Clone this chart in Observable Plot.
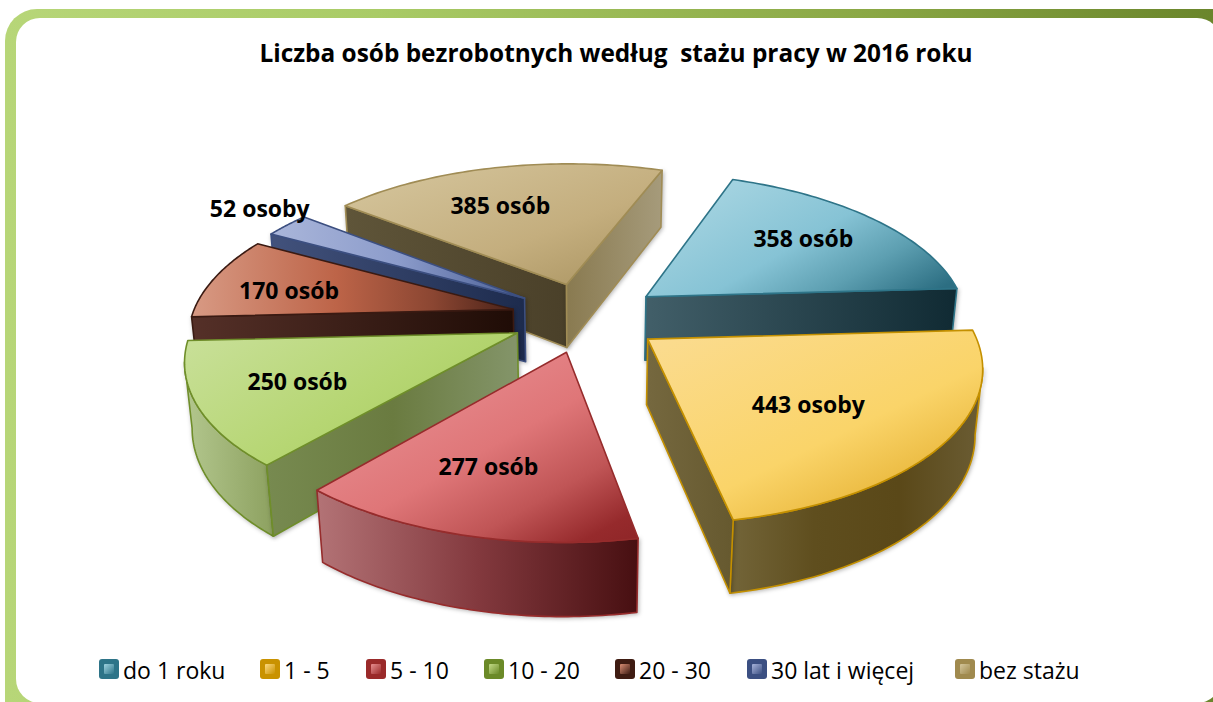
<!DOCTYPE html><html><head><meta charset="utf-8">
<script src="https://cdn.jsdelivr.net/npm/d3@7"></script>
<script src="https://cdn.jsdelivr.net/npm/@observablehq/plot@0.6"></script>
<style>
html,body{margin:0;background:#fff}
#page{position:relative;width:1213px;height:702px;overflow:hidden;font-family:"Open Sans",sans-serif;color:#000}
#frame{position:absolute;left:5px;top:9px;width:1240px;height:730px;border-radius:32px;background:linear-gradient(90deg,#b7d678 0%,#a9cb66 30%,#8aa744 70%,#678229 100%)}
#frame div{position:absolute;left:11px;top:9px;width:1205px;height:685px;border-radius:24px;background:#fff}
#chart{position:absolute;left:0;top:0}
#chart svg{display:block;background:transparent}
g.side{filter:drop-shadow(1px 1px 2px rgba(0,0,0,.3))}
#title{position:absolute;left:0;width:1232px;top:37px;text-align:center;font-size:24.4px;line-height:32px;font-weight:700;white-space:pre}
.lg{position:absolute;top:657px;height:26px;line-height:26px;font-size:23px;white-space:pre}
.sw{position:absolute;top:659px;width:20px;height:20px;border-radius:3px;box-sizing:border-box;padding:5px}
.sw i{display:block;width:10px;height:10px;border-radius:1px}
</style>
</head><body><div id="page"><div id="frame"><div></div></div><div id="chart"></div><div id="title"></div></div>
<script>
const titleText="Liczba osób bezrobotnych według  stażu pracy w 2016 roku";
const categories=["do 1 roku","1 - 5","5 - 10","10 - 20","20 - 30","30 lat i więcej","bez stażu"];
const values=[358,443,277,250,170,52,385];
const dataLabels=["358 osób","443 osoby","277 osób","250 osób","170 osób","52 osoby","385 osób"];
const edgeColors=["#2e7488","#c49000","#962c2c","#6f8e2a","#3a1a12","#3c4f80","#a08c55"];
const legendInner=["#9fd3e0","#fdd97f","#e88e90","#c3dc88","#d98e74","#a8b4dc","#d4c69c"];
const legendOuter=["#2e7488","#c99200","#9a2a2a","#6b8a28","#3f1c12","#3b4f82","#a08a4e"];
const legendX=[99,260,366,484,615,747,955];
const labelFrac=[.478,.549,.552,.5,.40,.74,.425];
const labelRadius=[.693,.598,.678,.702,.731,1.169,.659];
// view of the tilted, exploded pie
const V={cx:585.98,cy:316.64,R:321.64,e:75.77,start:20.06,t:27.53,k:1844.13,H:74.04,x0:-2.56};

const topGrad=[
 [0,.2,1,.85,[[0,"#abd7e3"],[.5,"#86c3d5"],[.75,"#5d9fb1"],[1,"#2c6e82"]]],
 [0,0,.85,1,[[0,"#fbdc92"],[.6,"#fad469"],[.85,"#eab93f"],[1,"#f3ca62"]]],
 [.15,.1,1,1,[[0,"#e99195"],[.45,"#df7678"],[.7,"#c05556"],[.9,"#962a2c"],[1,"#8e2527"]]],
 [0,0,1,.6,[[0,"#c9e09a"],[.6,"#b6d673"],[1,"#a8cc5f"]]],
 [0,0,1,0,[[0,"#d89a84"],[.45,"#bd6448"],[.75,"#8b4632"],[1,"#4a2218"]]],
 [0,0,1,0,[[0,"#aab6da"],[.5,"#8c9ccb"],[1,"#4a5f95"]]],
 [0,0,1,1,[[0,"#d6c79f"],[.6,"#c4ae7e"],[1,"#a8925f"]]]];
const startSide=[["#102a33","#102a33"],["#66592f","#66592f"],["#470f11","#470f11"],["#778a50","#6a7b40","#84956a"],["#553028","#1f0c06"],["#42527c","#1d2b4d"],["#5f5539","#4a4029"]];
const endSide=[["#425f69","#102a33"],["#75683f","#66592f"],["#b37376","#b37376"],["#84956a","#84956a"],["#553028","#553028"],["#42527c","#42527c"],["#897a50","#a69b7b"]];
const wallSide=[["#102a33","#102a33"],["#736539","#5f4e1e","#5a4818","#6b5d34"],["#b37376","#83393e","#470f11"],["#b3c78e","#8da160"],["#553028","#553028"],["#42527c","#42527c"],["#5f5539","#5f5539"]];

const rad=Math.PI/180;
const arcs=d3.pie().sort(null).startAngle(V.start*rad).endAngle((V.start+360)*rad)(values);
function proj(a,th,r,bottom){
 const m=(a.startAngle+a.endAngle)/2,t=V.t*rad;
 const X=V.e*Math.sin(m)+r*Math.sin(th),Y=V.e*Math.cos(m)+r*Math.cos(th),Z=bottom?-V.H:0;
 const yv=Y*Math.sin(t)+Z*Math.cos(t),zv=Y*Math.cos(t)-Z*Math.sin(t),s=V.k/(V.k+zv);
 return {x:V.cx+(X-V.x0)*s+V.x0,y:V.cy-yv*s};
}
const defsMark=()=>{
 const defs=d3.create("svg:defs");
 const add=(id,x1,y1,x2,y2,stops)=>{
  const g=defs.append("linearGradient").attr("id",id).attr("x1",x1).attr("y1",y1).attr("x2",x2).attr("y2",y2);
  stops.forEach(([o,c])=>g.append("stop").attr("offset",o).attr("stop-color",c));
 };
 const even=c=>c.map((v,i)=>[i/(c.length-1),v]);
 topGrad.forEach(([a,b,c,d,s],i)=>add("top"+i,a,b,c,d,s));
 startSide.forEach((c,i)=>add("start"+i,0,0,1,0,even(c)));
 endSide.forEach((c,i)=>add("end"+i,0,0,1,0,even(c)));
 wallSide.forEach((c,i)=>add("wall"+i,0,0,1,0,even(c)));
 return defs.node();
};
const face=(pts,fill,stroke,cls)=>Plot.line([...pts,pts[0]],{x:"x",y:"y",fill,stroke,strokeWidth:1.6,strokeLinejoin:"round",className:cls});
const turn=(p,q,r)=>(q.x-p.x)*(r.y-q.y)-(q.y-p.y)*(r.x-q.x);
const order=d3.range(values.length).sort((i,j)=>Math.cos((arcs[j].startAngle+arcs[j].endAngle)/2)-Math.cos((arcs[i].startAngle+arcs[i].endAngle)/2));
const marks=[defsMark];
for(const i of order){
 const a=arcs[i],c=edgeColors[i];
 const rim=d3.range(0,61).map(k=>a.startAngle+(a.endAngle-a.startAngle)*k/60);
 const topRim=rim.map(th=>proj(a,th,V.R,false)),botRim=rim.map(th=>proj(a,th,V.R,true));
 const apex=proj(a,0,0,false),apexB=proj(a,0,0,true);
 // only the faces turned to the viewer are drawn
 const shown=d3.range(0,61).filter(k=>(k<60&&topRim[k+1].x<topRim[k].x)||(k>0&&topRim[k].x<topRim[k-1].x));
 if(shown.length>1)marks.push(face([...shown.map(k=>topRim[k]),...shown.slice().reverse().map(k=>botRim[k])],`url(#wall${i})`,c,"side"));
 if(turn(apex,topRim[0],botRim[0])<0)marks.push(face([apex,topRim[0],botRim[0],apexB],`url(#start${i})`,c,"side"));
 if(turn(apex,topRim[60],botRim[60])>0)marks.push(face([apex,topRim[60],botRim[60],apexB],`url(#end${i})`,c,"side"));
 marks.push(face([apex,...topRim],`url(#top${i})`,c,"top"));
}
const labelPts=arcs.map((a,i)=>({...proj(a,a.startAngle+(a.endAngle-a.startAngle)*labelFrac[i],labelRadius[i]*V.R,false),text:dataLabels[i]}));
marks.push(Plot.text(labelPts,{x:"x",y:"y",text:"text",fill:"#000",fontSize:23,fontWeight:700,fontFamily:"Open Sans",textAnchor:"middle",lineAnchor:"middle"}));
const plot=Plot.plot({width:1213,height:702,margin:0,x:{domain:[0,1213],axis:null},y:{domain:[702,0],axis:null},marks});
document.getElementById("chart").append(plot);
document.getElementById("title").textContent=titleText;
const page=document.getElementById("page");
categories.forEach((n,i)=>{
 const s=document.createElement("div");s.className="sw";s.style.left=legendX[i]+"px";s.style.background=legendOuter[i];
 const k=document.createElement("i");k.style.background=`linear-gradient(135deg,${legendInner[i]},${legendOuter[i]}bb)`;s.append(k);page.append(s);
 const t=document.createElement("div");t.className="lg";t.style.left=(legendX[i]+24)+"px";t.textContent=n;page.append(t);
});
</script></body></html>
